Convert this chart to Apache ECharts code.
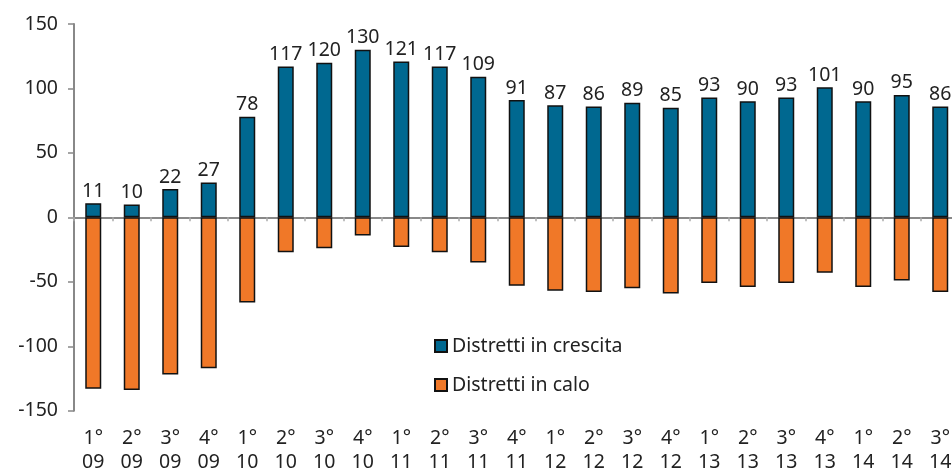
<!DOCTYPE html>
<html><head><meta charset="utf-8">
<script src="https://cdn.jsdelivr.net/npm/echarts@6/dist/echarts.min.js"></script>
<style>html,body{margin:0;padding:0;background:#fff}#c{width:952px;height:471px}</style>
</head><body><div id="c"></div>
<script>
const categories = ["1°\n09","2°\n09","3°\n09","4°\n09","1°\n10","2°\n10","3°\n10","4°\n10","1°\n11","2°\n11","3°\n11","4°\n11","1°\n12","2°\n12","3°\n12","4°\n12","1°\n13","2°\n13","3°\n13","4°\n13","1°\n14","2°\n14","3°\n14"];
const crescita = [11,10,22,27,78,117,120,130,121,117,109,91,87,86,89,85,93,90,93,101,90,95,86];
const calo = [-133,-134,-122,-117,-66,-27,-24,-14,-23,-27,-35,-53,-57,-58,-55,-59,-51,-54,-51,-43,-54,-49,-58];
const yTicks = {min:-150, max:150, interval:50};
const FONT = "Noto Sans";
const FS = 19.5;
const chart = echarts.init(document.getElementById('c'), null, {renderer:'canvas'});
chart.setOption({
  animation:false,
  textStyle:{fontFamily:FONT, color:'#222'},
  legend:{
    orient:'vertical', left:429, top:331, itemWidth:12, itemHeight:12, itemGap:19,
    icon:'rect',
    textStyle:{fontFamily:FONT, fontSize:FS, color:'#222'},
    data:['Distretti in crescita','Distretti in calo']
  },
  grid:{left:74, top:24, width:885.5, height:386.7, containLabel:false, outerBoundsMode:'none'},
  xAxis:[{
    type:'category', data:categories,
    axisLine:{onZero:true, lineStyle:{color:'#888', width:2}},
    axisTick:{show:true, length:4, lineStyle:{color:'#aaa', width:1.5}},
    axisLabel:{show:false}
  },{
    type:'category', data:categories, position:'bottom',
    axisLine:{show:false, onZero:false}, axisTick:{show:false},
    axisLabel:{show:true, interval:0, margin:16, fontSize:FS, lineHeight:24, color:'#222', fontFamily:FONT}
  }],
  yAxis:{
    type:'value', min:yTicks.min, max:yTicks.max, interval:yTicks.interval,
    axisLine:{show:true, lineStyle:{color:'#888', width:2}},
    axisTick:{show:true, length:6, lineStyle:{color:'#888', width:1.5}},
    splitLine:{show:false},
    axisLabel:{fontSize:FS, color:'#222', margin:16, fontFamily:FONT}
  },
  series:[{
    name:'Distretti in crescita', type:'bar', data:crescita, barWidth:16, barGap:'-100%',
    itemStyle:{color:'#006890', borderColor:'#111', borderWidth:1.5},
    label:{show:true, position:'top', distance:2, fontSize:FS, color:'#222', fontFamily:FONT}
  },{
    name:'Distretti in calo', type:'bar', data:calo, barWidth:16,
    itemStyle:{color:'#F07828', borderColor:'#111', borderWidth:1.5}
  }]
});
</script></body></html>
